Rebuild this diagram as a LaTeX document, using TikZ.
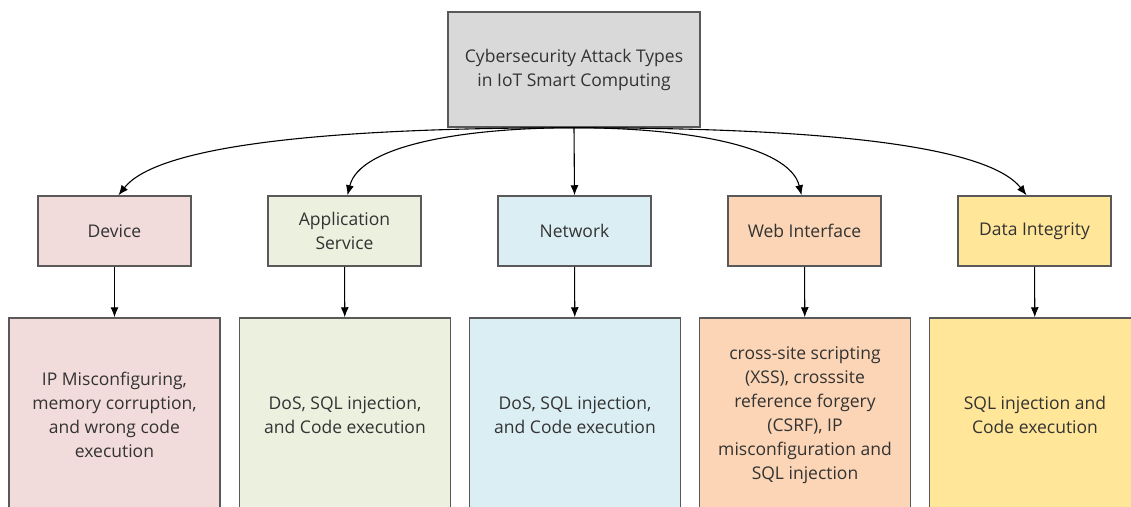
\documentclass[tikz,border=0pt]{standalone}
\usepackage{fontspec}
\setmainfont{Open Sans}
\usepackage{tikz}
\usetikzlibrary{arrows.meta}
\usetikzlibrary{positioning}

\definecolor{rootfill}{HTML}{D9D9D9}
\definecolor{boxline}{HTML}{595959}
\definecolor{txt}{HTML}{333333}
\definecolor{devfill}{HTML}{F2DCDB}
\definecolor{appfill}{HTML}{EBF1DE}
\definecolor{netfill}{HTML}{DBEEF4}
\definecolor{webfill}{HTML}{FBD5B5}
\definecolor{datfill}{HTML}{FFE699}

\tikzset{
  box/.style={draw=boxline, line width=1.5pt, text=txt, align=center,
    font=\fontsize{17.5}{24}\selectfont, inner sep=0pt},
  topbox/.style={box, fill=rootfill, minimum width=252pt, minimum height=115pt},
  catbox/.style={box, minimum width=153pt, minimum height=70pt},
  detailbox/.style={box, minimum width=211pt, minimum height=194pt},
  link/.style={-{Latex[length=10pt, width=8pt]}, line width=1.1pt, black}
}

\begin{document}
\begin{tikzpicture}[x=1pt, y=-1pt]
      \useasboundingbox (0, 0) rectangle (1131, 506);

      \node [topbox] (root) at (574, 69.5) {Cybersecurity Attack Types\\in IoT Smart Computing};

      \node [catbox, fill=devfill] (dev) at (114.5, 231) {Device};
      \node [catbox, fill=appfill] (app) at (344.5, 231) {Application\\Service};
      \node [catbox, fill=netfill] (net) at (574.5, 231) {Network};
      \node [catbox, fill=webfill] (web) at (804.5, 231) {Web Interface};
      \node [catbox, fill=datfill] (dat) at (1034.5, 231) {Data Integrity};

      \node [detailbox, fill=devfill] (devinfo) at (114.5, 415) {IP Misconfiguring,\\memory corruption,\\and wrong code\\execution};
      \node [detailbox, fill=appfill] (appinfo) at (345, 415) {DoS, SQL injection,\\and Code execution};
      \node [detailbox, fill=netfill] (netinfo) at (575, 415) {DoS, SQL injection,\\and Code execution};
      \node [detailbox, fill=webfill] (webinfo) at (805, 415) {cross-site scripting\\(XSS), crosssite\\reference forgery\\(CSRF), IP\\misconfiguration and\\SQL injection};
      \node [detailbox, fill=datfill] (datinfo) at (1035, 415) {SQL injection and\\Code execution};

      % curved links from the root
      \draw [link] (root.south) .. controls +(-274, 0) and +(36, -46) .. ([xshift=4pt]dev.north);
      \draw [link] (root.south) .. controls +(-110, 0) and +(12, -50) .. ([xshift=3pt]app.north);
      \draw [link] (root.south) -- (net.north);
      \draw [link] (root.south) .. controls +(110, 0) and +(-12, -50) .. ([xshift=-3pt]web.north);
      \draw [link] (root.south) .. controls +(274, 0) and +(-36, -46) .. ([xshift=-8pt]dat.north);

      \draw [link] (dev) -- (devinfo);
      \draw [link] (app) -- (appinfo);
      \draw [link] (net) -- (netinfo);
      \draw [link] (web) -- (webinfo);
      \draw [link] (dat) -- (datinfo);
    \end{tikzpicture}
\end{document}
